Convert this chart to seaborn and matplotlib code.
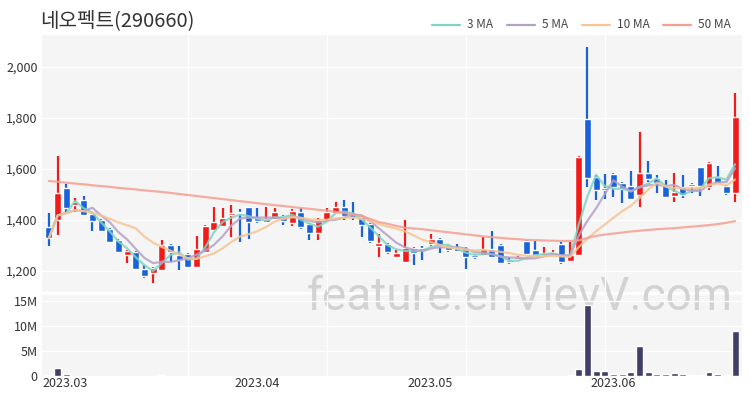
import numpy as np
import pandas as pd
import matplotlib.pyplot as plt
import seaborn as sns
from matplotlib.patches import Rectangle
from matplotlib.lines import Line2D
from matplotlib.transforms import ScaledTranslation

# Daily candles, 2023.03 - 2023.06
opens = [1373, 1400, 1526, 1459, 1479, 1424, 1400, 1365, 1322, 1263,
         1275, 1208, 1192, 1204, 1302, 1263, 1267, 1216, 1275, 1361,
         1377, 1420, 1432, 1451, 1408, 1392, 1404, 1416, 1388, 1432,
         1385, 1349, 1396, 1428, 1451, 1422, 1412, 1385, 1298, 1306,
         1255, 1236, 1290, 1290, 1306, 1326, 1298, 1290, 1290, 1263,
         1263, 1287, 1302, 1243, 1247, 1318, 1283, 1263, 1267, 1306,
         1240, 1263, 1796, 1569, 1526, 1581, 1545, 1534, 1498, 1584,
         1565, 1538, 1494, 1530, 1541, 1608, 1530, 1569, 1534, 1506]
highs = [1428, 1651, 1541, 1486, 1494, 1432, 1404, 1369, 1326, 1283,
         1279, 1224, 1216, 1322, 1306, 1298, 1271, 1338, 1381, 1451,
         1447, 1459, 1443, 1451, 1447, 1451, 1447, 1420, 1443, 1447,
         1388, 1408, 1447, 1471, 1479, 1471, 1416, 1388, 1345, 1310,
         1283, 1400, 1294, 1298, 1345, 1330, 1302, 1306, 1294, 1267,
         1334, 1357, 1306, 1255, 1259, 1322, 1318, 1294, 1283, 1314,
         1314, 1651, 2078, 1577, 1581, 1585, 1549, 1592, 1745, 1631,
         1577, 1557, 1584, 1577, 1545, 1608, 1627, 1612, 1538, 1898]
lows = [1298, 1341, 1432, 1432, 1416, 1357, 1353, 1310, 1271, 1232,
        1204, 1173, 1153, 1200, 1236, 1204, 1212, 1212, 1271, 1357,
        1373, 1334, 1314, 1326, 1388, 1388, 1400, 1381, 1377, 1365,
        1322, 1322, 1392, 1424, 1400, 1400, 1334, 1310, 1255, 1267,
        1251, 1232, 1224, 1243, 1298, 1271, 1275, 1275, 1208, 1247,
        1259, 1251, 1228, 1228, 1243, 1263, 1259, 1259, 1263, 1228,
        1236, 1259, 1530, 1479, 1483, 1490, 1467, 1479, 1451, 1549,
        1506, 1487, 1471, 1487, 1506, 1494, 1518, 1541, 1498, 1471]
closes = [1330, 1506, 1447, 1471, 1420, 1396, 1357, 1314, 1275, 1279,
          1208, 1181, 1212, 1302, 1275, 1243, 1216, 1287, 1377, 1392,
          1408, 1428, 1426, 1392, 1396, 1404, 1432, 1396, 1435, 1373,
          1349, 1400, 1432, 1451, 1416, 1412, 1381, 1318, 1310, 1275,
          1271, 1290, 1271, 1283, 1326, 1298, 1283, 1279, 1255, 1257,
          1287, 1255, 1232, 1234, 1255, 1267, 1263, 1271, 1275, 1236,
          1263, 1647, 1565, 1518, 1518, 1530, 1522, 1483, 1584, 1561,
          1545, 1490, 1510, 1498, 1534, 1534, 1624, 1545, 1506, 1804]
# volume in millions of shares
volumes_m = [0.12, 1.6, 0.35, 0.08, 0.06, 0.05, 0.05, 0.05, 0.05, 0.06,
             0.05, 0.08, 0.05, 0.12, 0.06, 0.05, 0.05, 0.06, 0.08, 0.06,
             0.05, 0.08, 0.05, 0.05, 0.05, 0.08, 0.05, 0.05, 0.05, 0.05,
             0.05, 0.05, 0.05, 0.08, 0.05, 0.05, 0.05, 0.05, 0.05, 0.05,
             0.05, 0.08, 0.05, 0.05, 0.05, 0.05, 0.05, 0.05, 0.05, 0.05,
             0.05, 0.05, 0.05, 0.05, 0.05, 0.05, 0.05, 0.05, 0.05, 0.05,
             0.15, 1.5, 14.3, 1.1, 1.0, 0.45, 0.45, 0.87, 6.0, 0.8,
             0.33, 0.33, 0.67, 0.33, 0.13, 0.13, 0.8, 0.33, 0.13, 9.0]
ma50 = [1553, 1550, 1546, 1543, 1540, 1536, 1533, 1530, 1526, 1523,
        1520, 1516, 1513, 1510, 1506, 1502, 1498, 1494, 1490, 1486,
        1482, 1478, 1474, 1470, 1466, 1462, 1458, 1455, 1451, 1447,
        1444, 1440, 1437, 1432, 1427, 1422, 1416, 1404, 1392, 1385,
        1377, 1370, 1367, 1364, 1360, 1356, 1352, 1348, 1344, 1340,
        1336, 1333, 1330, 1327, 1325, 1322, 1321, 1320, 1319, 1318,
        1318, 1320, 1330, 1338, 1343, 1347, 1351, 1355, 1358, 1361,
        1364, 1366, 1368, 1371, 1374, 1377, 1380, 1384, 1389, 1396]

month_ticks = [0, 22, 42, 63]
month_labels = ['2023.03', '2023.04', '2023.05', '2023.06']
price_ticks = [1200, 1400, 1600, 1800, 2000]
vol_ticks = [0, 5, 10, 15]
vol_labels = ['0', '5M', '10M', '15M']

df = pd.DataFrame({'open': opens, 'high': highs, 'low': lows,
                   'close': closes, 'volume': volumes_m, 'ma50': ma50})
df['idx'] = np.arange(len(df))
df['ma3'] = df['close'].rolling(3, min_periods=1).mean()
df['ma5'] = df['close'].rolling(5, min_periods=1).mean()
df['ma10'] = df['close'].rolling(10, min_periods=1).mean()

sns.set_theme(style='white')
plt.rcParams['font.family'] = ['Noto Sans CJK KR', 'DejaVu Sans']

UP = '#f21b1b'
DOWN = '#1a62d8'
BG = '#f5f5f5'
TXT = '#333333'
ma_colors = {'ma3': '#7fd4c4', 'ma5': '#b3a2c8', 'ma10': '#f6c592', 'ma50': '#f5a08f'}
ma_names = {'ma3': '3 MA', 'ma5': '5 MA', 'ma10': '10 MA', 'ma50': '50 MA'}

fig = plt.figure(figsize=(7.5, 4), dpi=100)
L, W = 42 / 750, 700 / 750
ax = fig.add_axes([L, 1 - 292 / 400, W, 257 / 400])
axv = fig.add_axes([L, 1 - 376 / 400, W, 81 / 400])
for a in (ax, axv):
    a.set_facecolor('none')
    for s in a.spines.values():
        s.set_visible(False)

# panel backgrounds and watermark behind the axes
fig.patches.append(Rectangle((L, 1 - 292 / 400), W, 257 / 400, transform=fig.transFigure,
                             facecolor=BG, edgecolor='none', zorder=-2))
fig.patches.append(Rectangle((L, 1 - 376 / 400), W, 81 / 400, transform=fig.transFigure,
                             facecolor=BG, edgecolor='none', zorder=-2))
fig.text(0.693, 0.258, 'feature.enVievV.com', fontsize=33, color='#d2d2d2',
         family='Roboto', ha='center', va='center', zorder=-1)

# candles
up = df['close'] >= df['open']
colors = np.where(up, UP, DOWN)
body_lo = np.minimum(df['open'], df['close'])
body_h = np.maximum(np.abs(df['close'] - df['open']), 5)
ax.vlines(df['idx'], df['low'], df['high'], colors=colors, lw=1.6, zorder=3)
ax.bar(df['idx'], body_h, bottom=body_lo, width=0.8, color=colors, zorder=3)

# moving averages
for key in ['ma3', 'ma5', 'ma10', 'ma50']:
    sns.lineplot(data=df, x='idx', y=key, ax=ax, color=ma_colors[key],
                 lw=1.6, alpha=0.85, zorder=4, legend=False)

# volume
axv.bar(df['idx'], df['volume'], width=0.8, color='#3f3f68', zorder=3)

ax.set_xlim(-0.8, 79.8)
axv.set_xlim(-0.8, 79.8)
ax.set_ylim(1118, 2125)
axv.set_ylim(0, 16.2)

for t in price_ticks:
    ax.axhline(t, color='white', lw=1, zorder=1)
for t in vol_ticks[1:]:
    axv.axhline(t, color='white', lw=1, zorder=1)
for xg in [16, 32, 48, 64]:
    ax.axvline(xg, color='white', lw=1, zorder=1)
    axv.axvline(xg, color='white', lw=1, zorder=1)

ax.set_yticks(price_ticks)
ax.set_yticklabels([f'{t:,}' for t in price_ticks])
ax.set_xticks([])
axv.set_yticks(vol_ticks)
axv.set_yticklabels(vol_labels)
axv.set_xticks(month_ticks)
axv.set_xticklabels(month_labels)
for a in (ax, axv):
    a.set_xlabel('')
    a.set_ylabel('')
    a.tick_params(axis='both', length=0, labelsize=9, labelcolor=TXT, pad=3)
axv.tick_params(axis='x', pad=1)
shift = ScaledTranslation(-6 / 100, 0, fig.dpi_scale_trans)
for lab in axv.get_xticklabels():
    lab.set_horizontalalignment('left')
    lab.set_transform(lab.get_transform() + shift)

# title and legend
fig.text(40 / 750, 1 - 21 / 400, '네오펙트(290660)', fontsize=14.5, color=TXT,
         ha='left', va='center')
leg_x = [432, 507, 582, 663]
for x0, key in zip(leg_x, ['ma3', 'ma5', 'ma10', 'ma50']):
    fig.add_artist(Line2D([x0 / 750, (x0 + 28) / 750], [1 - 25 / 400] * 2,
                          transform=fig.transFigure, color=ma_colors[key], lw=1.6))
    fig.text((x0 + 35) / 750, 1 - 25 / 400, ma_names[key], fontsize=8.5,
             color='#444444', ha='left', va='center')

fig.savefig('out.png', dpi=100)
